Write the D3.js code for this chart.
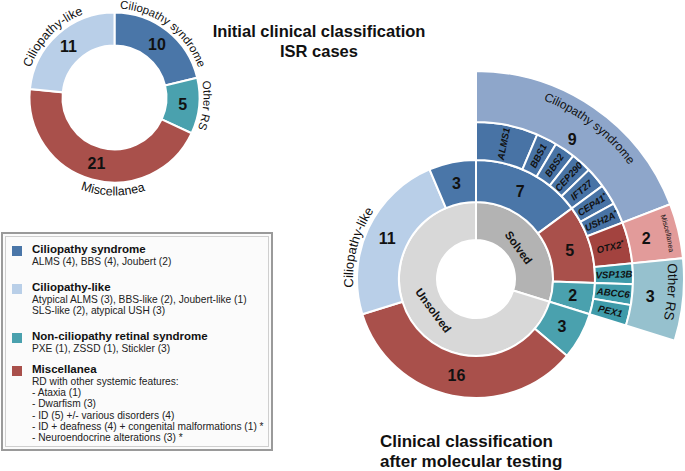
<!DOCTYPE html>
<html><head><meta charset="utf-8">
<script src="https://cdn.jsdelivr.net/npm/d3@7"></script>
<style>body{margin:0;background:#fff}svg{display:block}text{font-family:"Liberation Sans",Arial,Helvetica,sans-serif}</style>
</head><body><svg id="c" width="685" height="471"></svg>
<script>
// ---------- data ----------
const initialCategories = ["Ciliopathy syndrome", "Other RS", "Miscellanea", "Ciliopathy-like"];
const initialValues = [10, 5, 21, 11];
const statusLabels = ["Solved", "Unsolved"];
const statusValues = [14, 33];
const middleCategories = ["Ciliopathy syndrome", "Miscellanea", "Other RS", "Other RS", "Miscellanea", "Ciliopathy-like", "Ciliopathy syndrome"];
const middleValues = [7, 5, 2, 3, 16, 11, 3];
const geneLabels = ["ALMS1", "BBS1", "BBS2", "CEP290", "IFT27", "CEP41*", "USH2A*", "OTX2*", "VSP13B", "ABCC6", "PEX1"];
const geneCategories = ["Ciliopathy syndrome", "Ciliopathy syndrome", "Ciliopathy syndrome", "Ciliopathy syndrome", "Ciliopathy syndrome", "Ciliopathy syndrome", "Ciliopathy syndrome", "Miscellanea", "Other RS", "Other RS", "Other RS"];
const geneValues = [3, 1, 1, 1, 1, 1, 1, 2, 1, 1, 1];
const finalCategories = ["Ciliopathy syndrome", "Miscellanea", "Other RS"];
const finalValues = [9, 2, 3];
const legendTitles = ["Ciliopathy syndrome", "Ciliopathy-like", "Non-ciliopathy retinal syndrome", "Miscellanea"];
const legendCategories = ["Ciliopathy syndrome", "Ciliopathy-like", "Other RS", "Miscellanea"];
const legendLines = [
  ["ALMS (4), BBS (4), Joubert (2)"],
  ["Atypical ALMS (3), BBS-like (2), Joubert-like (1)", "SLS-like (2), atypical USH (3)"],
  ["PXE (1), ZSSD (1), Stickler (3)"],
  ["RD with other systemic features:", "- Ataxia (1)", "- Dwarfism (3)", "- ID (5) +/- various disorders (4)",
   "- ID + deafness (4) + congenital malformations (1) *", "- Neuroendocrine alterations (3) *"]
];
const title1 = ["Initial clinical classification", "ISR cases"];
const title2 = ["Clinical classification", "after molecular testing"];

// ---------- styles ----------
const dark = {"Ciliopathy syndrome": "#4a76a8", "Ciliopathy-like": "#b9cfe8", "Other RS": "#4aa1ae", "Miscellanea": "#a9504b"};
const geneColor = {"Ciliopathy syndrome": "#4873a5", "Miscellanea": "#a3433f", "Other RS": "#3f9baa"};
const light = {"Ciliopathy syndrome": "#8ea6ca", "Miscellanea": "#e29b9a", "Other RS": "#96c1ce"};
const statusColor = ["#b3b3b3", "#d8d8d8"];

const svg = d3.select("#c");
const TAU = Math.PI * 2;
const deg = r => r * 180 / Math.PI;
const rad = d => d * Math.PI / 180;
let pid = 0;

function measure(txt, size, weight) {
  const t = svg.append("text").attr("font-size", size).attr("font-weight", weight || "normal").text(txt);
  const w = t.node().getComputedTextLength();
  t.remove();
  return w;
}

// curved label, each word on its own textPath segment
function curvedText(g, r, a0, a1, ccw, txt, size, weight) {
  const p = d3.path();
  p.arc(0, 0, r, a0 - Math.PI / 2, a1 - Math.PI / 2, ccw);
  const id = "tp" + (pid++);
  g.append("path").attr("id", id).attr("d", p.toString()).attr("fill", "none");
  const len = Math.abs(a1 - a0) * r;
  const words = txt.split(" ");
  const space = measure("a a", size, weight) - measure("aa", size, weight);
  const widths = words.map(w => measure(w, size, weight));
  const total = d3.sum(widths) + space * (words.length - 1);
  let off = (len - total) / 2;
  words.forEach((w, i) => {
    g.append("text").attr("font-size", size).attr("font-weight", weight || "normal").attr("fill", "#111")
      .append("textPath").attr("href", "#" + id).attr("startOffset", off).attr("text-anchor", "start").text(w);
    off += widths[i] + space;
  });
}

// ---------- small donut ----------
{
  const g = svg.append("g").attr("transform", "translate(114.5,97.5)");
  const pie = d3.pie().sort(null).value(d => d)(initialValues);
  const arc = d3.arc().innerRadius(52).outerRadius(85);
  g.selectAll("path.s").data(pie).join("path").attr("class", "s").attr("d", arc)
    .attr("fill", (d, i) => dark[initialCategories[i]]).attr("stroke", "#fff").attr("stroke-width", 2);
  g.selectAll("text.n").data(pie).join("text").attr("class", "n")
    .attr("transform", d => `translate(${arc.centroid(d)})`).attr("text-anchor", "middle").attr("dy", "0.36em")
    .attr("font-size", 16).attr("font-weight", "bold").attr("fill", "#111").text(d => d.data);
  curvedText(g, 89, rad(0), rad(74), false, initialCategories[0], 11.5);
  curvedText(g, 89, rad(76), rad(114), false, initialCategories[1], 11.5);
  curvedText(g, 98, rad(215), rad(147), true, initialCategories[2], 12.5);
  curvedText(g, 89, rad(285), rad(344), false, initialCategories[3], 12.5);
}

// ---------- titles ----------
svg.selectAll("text.t1").data(title1).join("text").attr("class", "t1")
  .attr("x", 319).attr("y", (d, i) => 37 + i * 20).attr("text-anchor", "middle")
  .attr("font-size", 16.5).attr("font-weight", "bold").attr("fill", "#111").text(d => d);
svg.selectAll("text.t2").data(title2).join("text").attr("class", "t2")
  .attr("x", 380).attr("y", (d, i) => 447 + i * 20).attr("text-anchor", "start")
  .attr("font-size", 17).attr("font-weight", "bold").attr("fill", "#111").text(d => d);

// ---------- legend ----------
{
  const g = svg.append("g");
  g.append("rect").attr("x", 2).attr("y", 233).attr("width", 270).attr("height", 217)
    .attr("fill", "#fbfbfb").attr("stroke", "#9a9a9a").attr("stroke-width", 2);
  g.append("rect").attr("x", 5.5).attr("y", 236.5).attr("width", 263).attr("height", 210)
    .attr("fill", "none").attr("stroke", "#cfcfcf").attr("stroke-width", 1);
  const tops = [253, 291, 340, 373];
  legendTitles.forEach((t, i) => {
    g.append("rect").attr("x", 12).attr("y", tops[i] - 7).attr("width", 10).attr("height", 10)
      .attr("fill", dark[legendCategories[i]]);
    g.append("text").attr("x", 32).attr("y", tops[i]).attr("font-size", 11.5).attr("font-weight", "bold")
      .attr("fill", "#111").text(t);
    legendLines[i].forEach((l, j) => {
      g.append("text").attr("x", 32).attr("y", tops[i] + 12 + j * 11.2).attr("font-size", 10.2)
        .attr("fill", "#222").text(l);
    });
  });
}

// ---------- sunburst ----------
{
  const g = svg.append("g").attr("transform", "translate(476,279)");
  const total = d3.sum(middleValues);
  const angle = d3.scaleLinear().domain([0, total]).range([0, TAU]);
  const solvedEnd = angle(d3.sum(statusValues.slice(0, 1)));

  const ring = (vals, end) => d3.pie().sort(null).value(d => d).startAngle(0).endAngle(end)(vals);
  const draw = (data, r0, r1, colorFn, cls) => {
    const arc = d3.arc().innerRadius(r0).outerRadius(r1);
    g.selectAll("path." + cls).data(data).join("path").attr("class", cls).attr("d", arc)
      .attr("fill", colorFn).attr("stroke", "#fff").attr("stroke-width", 2);
    return arc;
  };
  const statusPie = ring(statusValues, TAU);
  const middlePie = ring(middleValues, TAU);
  const genePie = ring(geneValues, solvedEnd);
  const finalPie = ring(finalValues, solvedEnd);

  draw(statusPie, 39, 77, (d, i) => statusColor[i], "st");
  const midArc = draw(middlePie, 77, 119, (d, i) => dark[middleCategories[i]], "mi");
  draw(genePie, 119, 157, (d, i) => geneColor[geneCategories[i]], "ge");
  draw(finalPie, 157, 208, (d, i) => light[finalCategories[i]], "fi");

  // status labels
  statusPie.forEach((d, i) => {
    const a = (d.startAngle + d.endAngle) / 2, r = 53;
    const rot = deg(a) < 180 ? deg(a) : deg(a) - 180;
    g.append("text").attr("transform", `translate(${r * Math.sin(a)},${-r * Math.cos(a)}) rotate(${rot})`)
      .attr("text-anchor", "middle").attr("dy", "0.36em").attr("font-size", 11.5).attr("font-weight", "bold")
      .attr("fill", "#111").text(statusLabels[i]);
  });
  // middle numbers
  g.selectAll("text.mn").data(middlePie).join("text").attr("class", "mn")
    .attr("transform", d => `translate(${midArc.centroid(d)})`).attr("text-anchor", "middle").attr("dy", "0.36em")
    .attr("font-size", 16).attr("font-weight", "bold").attr("fill", "#111").text(d => d.data);
  // gene labels
  genePie.forEach((d, i) => {
    const a = (d.startAngle + d.endAngle) / 2, r = 138;
    const t = g.append("text").attr("transform", `translate(${r * Math.sin(a)},${-r * Math.cos(a)}) rotate(${deg(a) - 90})`)
      .attr("text-anchor", "middle").attr("dy", "0.36em").attr("font-size", 9.6).attr("font-weight", "bold")
      .attr("font-style", "italic").attr("fill", "#111");
    const lab = geneLabels[i];
    if (lab.endsWith("*")) {
      t.append("tspan").text(lab.slice(0, -1));
      t.append("tspan").attr("font-size", 7).attr("dy", -3).text("*");
    } else t.text(lab);
  });
  // final numbers
  finalPie.forEach((d, i) => {
    const a = (d.startAngle + d.endAngle) / 2, r = i === 0 ? 170 : 175;
    g.append("text").attr("transform", `translate(${r * Math.sin(a)},${-r * Math.cos(a)})`)
      .attr("text-anchor", "middle").attr("dy", "0.36em").attr("font-size", 16).attr("font-weight", "bold")
      .attr("fill", "#111").text(d.data);
  });
  // final curved names
  const f = finalPie;
  curvedText(g, 191, f[0].startAngle + rad(8), f[0].endAngle - rad(3), false, finalCategories[0], 12);
  curvedText(g, 195, f[1].startAngle, f[1].endAngle, false, finalCategories[1], 7.2);
  curvedText(g, 192, f[2].startAngle - rad(2), f[2].endAngle - rad(2), false, finalCategories[2], 13.5);
  // Ciliopathy-like outside label
  const cl = middlePie[5];
  curvedText(g, 123, cl.startAngle, cl.endAngle - rad(20), false, middleCategories[5], 13);
}
</script></body></html>
